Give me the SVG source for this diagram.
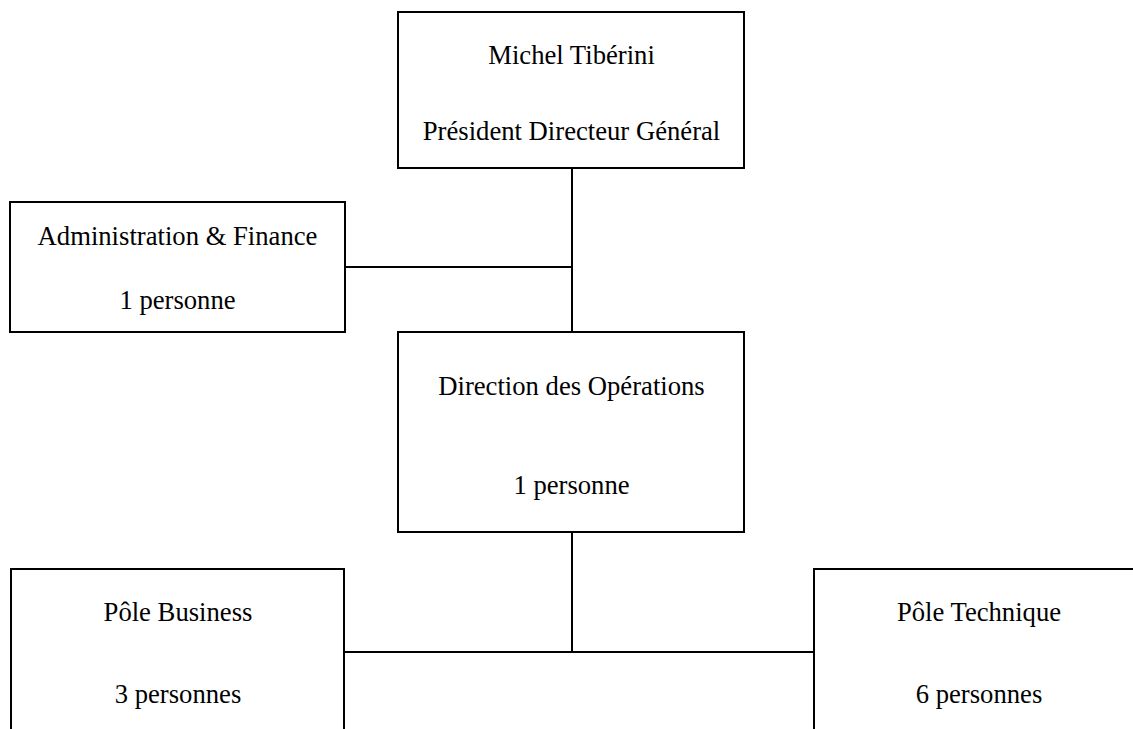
<svg xmlns="http://www.w3.org/2000/svg" width="1133" height="729" viewBox="0 0 1133 729">
<style>
.box{fill:#fff;stroke:#000;stroke-width:2}
.ln{stroke:#000;stroke-width:2;fill:none}
text{font-family:"Liberation Serif","Times New Roman",serif;font-size:26.67px;fill:#000;text-anchor:middle}
</style>
<rect width="1133" height="729" fill="#fff"/>
<g id="connectors">
<line class="ln" x1="572" y1="168" x2="572" y2="332"/>
<line class="ln" x1="345" y1="267" x2="572" y2="267"/>
<line class="ln" x1="572" y1="532" x2="572" y2="652"/>
<line class="ln" x1="344" y1="652" x2="814" y2="652"/>
</g>
<g id="pdg">
<rect class="box" x="398" y="12" width="346" height="156"/>
<text x="571.5" y="64">Michel Tibérini</text>
<text x="571.5" y="140">Président Directeur Général</text>
</g>
<g id="admin">
<rect class="box" x="10" y="202" width="335" height="130"/>
<text x="177.5" y="245">Administration &amp; Finance</text>
<text x="177.5" y="309">1 personne</text>
</g>
<g id="dirops">
<rect class="box" x="398" y="332" width="346" height="200"/>
<text x="571.5" y="395">Direction des Opérations</text>
<text x="571.5" y="494">1 personne</text>
</g>
<g id="business">
<rect class="box" x="11" y="569" width="333" height="180"/>
<text x="178" y="621">Pôle Business</text>
<text x="178" y="703">3 personnes</text>
</g>
<g id="technique">
<rect class="box" x="814" y="569" width="333" height="180"/>
<text x="979" y="621">Pôle Technique</text>
<text x="979" y="703">6 personnes</text>
</g>
</svg>
